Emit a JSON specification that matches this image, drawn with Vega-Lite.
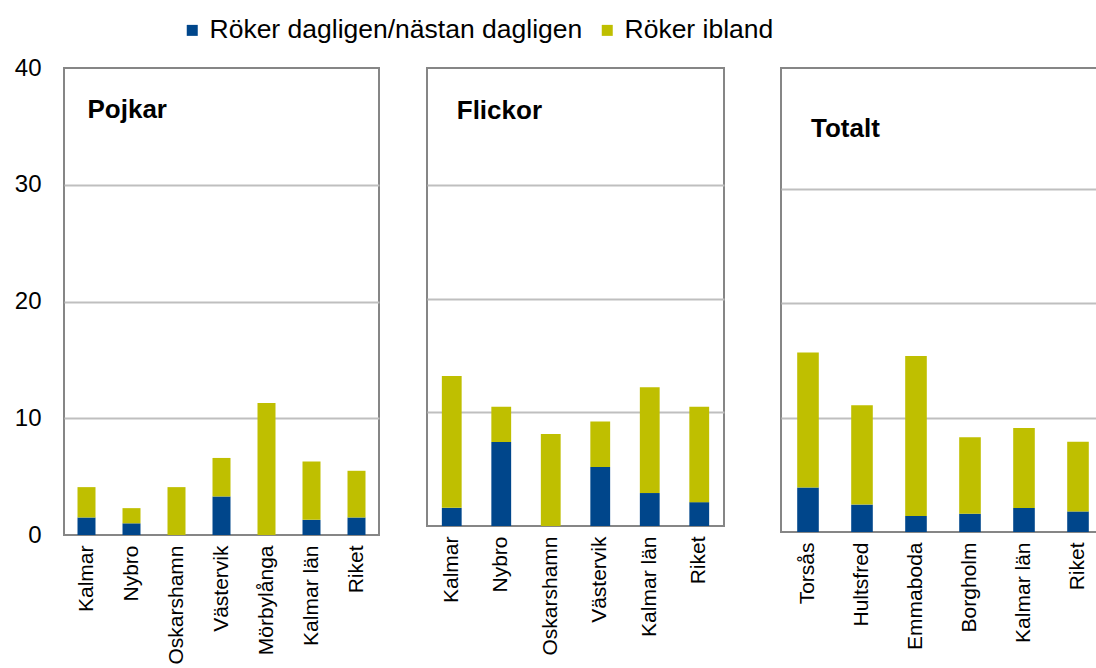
{
  "$schema": "https://vega.github.io/schema/vega-lite/v6.json",
  "background": "white",
  "padding": {"left": 13, "top": 17, "right": 0, "bottom": 0},
  "data": {
    "values": [
      {"panel": "Pojkar", "ort": "Kalmar", "typ": "Röker dagligen/nästan dagligen", "andel": 1.5},
      {"panel": "Pojkar", "ort": "Kalmar", "typ": "Röker ibland", "andel": 2.6},
      {"panel": "Pojkar", "ort": "Nybro", "typ": "Röker dagligen/nästan dagligen", "andel": 1.0},
      {"panel": "Pojkar", "ort": "Nybro", "typ": "Röker ibland", "andel": 1.3},
      {"panel": "Pojkar", "ort": "Oskarshamn", "typ": "Röker dagligen/nästan dagligen", "andel": 0},
      {"panel": "Pojkar", "ort": "Oskarshamn", "typ": "Röker ibland", "andel": 4.1},
      {"panel": "Pojkar", "ort": "Västervik", "typ": "Röker dagligen/nästan dagligen", "andel": 3.3},
      {"panel": "Pojkar", "ort": "Västervik", "typ": "Röker ibland", "andel": 3.3},
      {"panel": "Pojkar", "ort": "Mörbylånga", "typ": "Röker dagligen/nästan dagligen", "andel": 0},
      {"panel": "Pojkar", "ort": "Mörbylånga", "typ": "Röker ibland", "andel": 11.3},
      {"panel": "Pojkar", "ort": "Kalmar län", "typ": "Röker dagligen/nästan dagligen", "andel": 1.3},
      {"panel": "Pojkar", "ort": "Kalmar län", "typ": "Röker ibland", "andel": 5.0},
      {"panel": "Pojkar", "ort": "Riket", "typ": "Röker dagligen/nästan dagligen", "andel": 1.5},
      {"panel": "Pojkar", "ort": "Riket", "typ": "Röker ibland", "andel": 4.0},
      {"panel": "Flickor", "ort": "Kalmar", "typ": "Röker dagligen/nästan dagligen", "andel": 1.6},
      {"panel": "Flickor", "ort": "Kalmar", "typ": "Röker ibland", "andel": 11.6},
      {"panel": "Flickor", "ort": "Nybro", "typ": "Röker dagligen/nästan dagligen", "andel": 7.4},
      {"panel": "Flickor", "ort": "Nybro", "typ": "Röker ibland", "andel": 3.1},
      {"panel": "Flickor", "ort": "Oskarshamn", "typ": "Röker dagligen/nästan dagligen", "andel": 0},
      {"panel": "Flickor", "ort": "Oskarshamn", "typ": "Röker ibland", "andel": 8.1},
      {"panel": "Flickor", "ort": "Västervik", "typ": "Röker dagligen/nästan dagligen", "andel": 5.2},
      {"panel": "Flickor", "ort": "Västervik", "typ": "Röker ibland", "andel": 4.0},
      {"panel": "Flickor", "ort": "Kalmar län", "typ": "Röker dagligen/nästan dagligen", "andel": 2.9},
      {"panel": "Flickor", "ort": "Kalmar län", "typ": "Röker ibland", "andel": 9.3},
      {"panel": "Flickor", "ort": "Riket", "typ": "Röker dagligen/nästan dagligen", "andel": 2.1},
      {"panel": "Flickor", "ort": "Riket", "typ": "Röker ibland", "andel": 8.4},
      {"panel": "Totalt", "ort": "Torsås", "typ": "Röker dagligen/nästan dagligen", "andel": 3.9},
      {"panel": "Totalt", "ort": "Torsås", "typ": "Röker ibland", "andel": 11.8},
      {"panel": "Totalt", "ort": "Hultsfred", "typ": "Röker dagligen/nästan dagligen", "andel": 2.4},
      {"panel": "Totalt", "ort": "Hultsfred", "typ": "Röker ibland", "andel": 8.7},
      {"panel": "Totalt", "ort": "Emmaboda", "typ": "Röker dagligen/nästan dagligen", "andel": 1.4},
      {"panel": "Totalt", "ort": "Emmaboda", "typ": "Röker ibland", "andel": 14.0},
      {"panel": "Totalt", "ort": "Borgholm", "typ": "Röker dagligen/nästan dagligen", "andel": 1.6},
      {"panel": "Totalt", "ort": "Borgholm", "typ": "Röker ibland", "andel": 6.7},
      {"panel": "Totalt", "ort": "Kalmar län", "typ": "Röker dagligen/nästan dagligen", "andel": 2.1},
      {"panel": "Totalt", "ort": "Kalmar län", "typ": "Röker ibland", "andel": 7.0},
      {"panel": "Totalt", "ort": "Riket", "typ": "Röker dagligen/nästan dagligen", "andel": 1.8},
      {"panel": "Totalt", "ort": "Riket", "typ": "Röker ibland", "andel": 6.1}
    ]
  },
  "spacing": 46,
  "hconcat": [
    {
      "width": 315,
      "height": 467,
      "layer": [
        {
          "transform": [{"filter": "datum.panel === 'Pojkar'"}],
          "mark": {"type": "bar"},
          "encoding": {
            "x": {"field": "ort", "type": "nominal", "sort": null, "scale": {"paddingInner": 0.6, "paddingOuter": 0.3}, "axis": {"title": null}},
            "y": {"field": "andel", "type": "quantitative", "stack": "zero", "scale": {"domain": [0, 40], "nice": false},
                  "axis": {"title": null, "values": [0, 10, 20, 30, 40], "gridColor": {"condition": {"test": "datum.value === 0 || datum.value === 40", "value": "transparent"}, "value": "#BFBFBF"}}},
            "order": {"field": "typ", "sort": "ascending"},
            "color": {"field": "typ", "type": "nominal",
                      "scale": {"domain": ["Röker dagligen/nästan dagligen", "Röker ibland"], "range": ["#00468B", "#BFBF00"]},
                      "legend": {"title": null, "orient": "none", "legendX": 115, "legendY": -51, "direction": "horizontal"}}
          }
        },
        {
          "data": {"values": [{"rubrik": "Pojkar"}]},
          "mark": {"type": "text", "align": "left", "baseline": "alphabetic", "dx": 1, "fontSize": 26, "fontWeight": "bold", "color": "#000"},
          "encoding": {
            "text": {"field": "rubrik"},
            "x": {"datum": "Kalmar", "type": "nominal"},
            "y": {"datum": 35.7, "type": "quantitative"}
          }
        }
      ]
    },
    {
      "spacing": 55,
      "hconcat": [
        {
          "width": 297,
          "height": 458,
          "layer": [
            {
              "transform": [{"filter": "datum.panel === 'Flickor'"}],
              "mark": {"type": "bar"},
              "encoding": {
                "x": {"field": "ort", "type": "nominal", "sort": null, "scale": {"paddingInner": 0.6, "paddingOuter": 0.3}, "axis": {"title": null}},
                "y": {"field": "andel", "type": "quantitative", "stack": "zero", "scale": {"domain": [0, 40.3], "nice": false},
                      "axis": {"title": null, "labels": false, "values": [10, 20, 30]}},
                "order": {"field": "typ", "sort": "ascending"},
                "color": {"field": "typ", "type": "nominal",
                          "scale": {"domain": ["Röker dagligen/nästan dagligen", "Röker ibland"], "range": ["#00468B", "#BFBF00"]},
                          "legend": {"title": null, "orient": "none", "legendX": 115, "legendY": -51, "direction": "horizontal"}}
              }
            },
            {
              "data": {"values": [{"rubrik": "Flickor"}]},
              "mark": {"type": "text", "align": "left", "baseline": "alphabetic", "dx": 5, "fontSize": 26, "fontWeight": "bold", "color": "#000"},
              "encoding": {
                "text": {"field": "rubrik"},
                "x": {"datum": "Kalmar", "type": "nominal"},
                "y": {"datum": 35.8, "type": "quantitative"}
              }
            }
          ]
        },
        {
          "width": 324,
          "height": 464,
          "layer": [
            {
              "transform": [{"filter": "datum.panel === 'Totalt'"}],
              "mark": {"type": "bar"},
              "encoding": {
                "x": {"field": "ort", "type": "nominal", "sort": null, "scale": {"paddingInner": 0.6, "paddingOuter": 0.3}, "axis": {"title": null}},
                "y": {"field": "andel", "type": "quantitative", "stack": "zero", "scale": {"domain": [0, 40.6], "nice": false},
                      "axis": {"title": null, "labels": false, "values": [10, 20, 30]}},
                "order": {"field": "typ", "sort": "ascending"},
                "color": {"field": "typ", "type": "nominal",
                          "scale": {"domain": ["Röker dagligen/nästan dagligen", "Röker ibland"], "range": ["#00468B", "#BFBF00"]},
                          "legend": {"title": null, "orient": "none", "legendX": 115, "legendY": -51, "direction": "horizontal"}}
              }
            },
            {
              "data": {"values": [{"rubrik": "Totalt"}]},
              "mark": {"type": "text", "align": "left", "baseline": "alphabetic", "dx": 3, "fontSize": 26, "fontWeight": "bold", "color": "#000"},
              "encoding": {
                "text": {"field": "rubrik"},
                "x": {"datum": "Torsås", "type": "nominal"},
                "y": {"datum": 34.6, "type": "quantitative"}
              }
            }
          ]
        }
      ]
    }
  ],
  "config": {
    "font": "Liberation Sans",
    "view": {"stroke": "#868686", "strokeWidth": 2},
    "axis": {"domain": false, "ticks": false, "labelColor": "#000", "gridColor": "#BFBFBF", "gridWidth": 2},
    "axisX": {"labelFontSize": 21, "labelAngle": -90, "labelPadding": 10, "grid": false, "labelLimit": 0},
    "axisY": {"labelFontSize": 24, "labelPadding": 23, "grid": true},
    "legend": {"labelFontSize": 26.5, "labelColor": "#000", "symbolType": "square", "symbolSize": 121, "symbolStrokeWidth": 0, "labelOffset": 4, "columnPadding": 11, "labelLimit": 0}
  }
}
